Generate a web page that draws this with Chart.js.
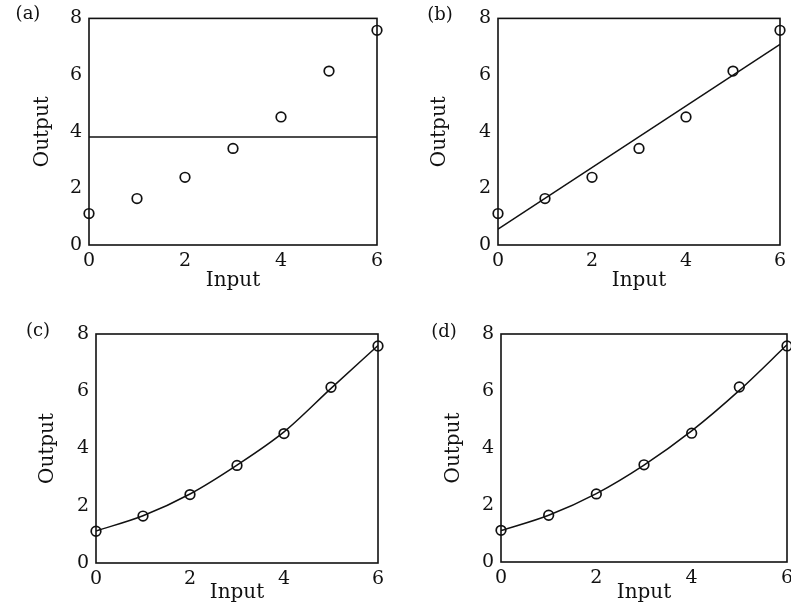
<!DOCTYPE html>
<html>
<head>
<meta charset="utf-8">
<script src="https://cdn.jsdelivr.net/npm/chart.js@4/dist/chart.umd.min.js"></script>
<style>
  html, body { margin: 0; padding: 0; background: #fff; overflow: hidden; width: 791px; height: 612px; }
  canvas { position: absolute; }
  .lbl { position: absolute; font-family: "DejaVu Serif", serif; font-size: 18px; color: #111;
         transform: translate(-50%, -50%); white-space: nowrap; line-height: 1; }
</style>
</head>
<body>
<canvas id="ca" width="400" height="300" style="left:0px;top:0px;width:400px;height:300px"></canvas>
<canvas id="cb" width="400" height="300" style="left:400px;top:0px;width:400px;height:300px"></canvas>
<canvas id="cc" width="400" height="312" style="left:0px;top:300px;width:400px;height:312px"></canvas>
<canvas id="cd" width="400" height="312" style="left:400px;top:300px;width:400px;height:312px"></canvas>
<div class="lbl" style="left:28px;top:13px">(a)</div>
<div class="lbl" style="left:440px;top:14px">(b)</div>
<div class="lbl" style="left:38px;top:330px">(c)</div>
<div class="lbl" style="left:444px;top:331px">(d)</div>
<script>
// ---- data ----
const inputX = [0, 1, 2, 3, 4, 5, 6];
const outputY = [1.11, 1.64, 2.39, 3.41, 4.52, 6.14, 7.58];

// (a) constant model
const fitAX = [0, 6];
const fitAY = [3.81, 3.81];
// (b) straight line model
const fitBX = [0, 6];
const fitBY = [0.56, 7.08];
// (c) high-order curve
const fitCX = [0, 1, 2, 3, 4, 5, 6];
const fitCY = [1.12, 1.65, 2.41, 3.42, 4.58, 6.1, 7.6];
// (d) smooth curve
const fitDX = [0, 1, 2, 3, 4, 5, 6];
const fitDY = [1.1, 1.64, 2.4, 3.4, 4.6, 6.02, 7.62];

const xTickVals = [0, 2, 4, 6];
const yTickVals = [0, 2, 4, 6, 8];
const xTitle = 'Input';
const yTitle = 'Output';

const FONT = '"DejaVu Serif", serif';
const INK = '#111';

const framePlugin = {
  id: 'frame',
  afterDatasetsDraw(chart) {
    const a = chart.chartArea, ctx = chart.ctx;
    ctx.save();
    ctx.strokeStyle = INK;
    ctx.lineWidth = 1.6;
    ctx.strokeRect(a.left, a.top, a.right - a.left, a.bottom - a.top);
    ctx.restore();
  }
};

function makePanel(id, lineX, lineY, smooth, lay) {
  const pts = inputX.map((x, i) => ({ x: x, y: outputY[i] }));
  const line = lineX.map((x, i) => ({ x: x, y: lineY[i] }));
  new Chart(document.getElementById(id), {
    type: 'scatter',
    data: {
      datasets: [
        {
          data: line, showLine: true, borderColor: INK, borderWidth: 1.5,
          pointRadius: 0, fill: false,
          cubicInterpolationMode: smooth ? 'monotone' : 'default', tension: 0
        },
        {
          data: pts, showLine: false, pointStyle: 'circle', pointRadius: 4.8,
          pointBorderWidth: 1.7, pointBorderColor: INK, pointBackgroundColor: 'rgba(0,0,0,0)',
          clip: false
        }
      ]
    },
    options: {
      responsive: false,
      animation: false,
      events: [],
      layout: { padding: { left: 0, top: lay.top, right: lay.right, bottom: 0 } },
      plugins: { legend: { display: false }, tooltip: { enabled: false } },
      scales: {
        x: {
          type: 'linear', min: 0, max: 6,
          afterBuildTicks: (s) => { s.ticks = xTickVals.map(v => ({ value: v })); },
          afterFit: (s) => { s.height = lay.xH; },
          grid: { display: false, drawTicks: false },
          border: { display: false },
          ticks: { color: INK, font: { family: FONT, size: 19 }, padding: 5, maxRotation: 0 },
          title: { display: true, text: xTitle, color: INK, font: { family: FONT, size: 20 },
                   padding: { top: 0, bottom: 7 } }
        },
        y: {
          type: 'linear', min: 0, max: 8,
          afterBuildTicks: (s) => { s.ticks = yTickVals.map(v => ({ value: v })); },
          afterFit: (s) => { s.width = lay.yW; },
          grid: { display: false, drawTicks: false },
          border: { display: false },
          ticks: { color: INK, font: { family: FONT, size: 19 }, padding: 7 },
          title: { display: true, text: yTitle, color: INK, font: { family: FONT, size: 20 },
                   padding: { top: lay.yt, bottom: 0 } }
        }
      }
    },
    plugins: [framePlugin]
  });
}

makePanel('ca', fitAX, fitAY, false, { top: 15, right: 23, yW: 89,  xH: 55, yt: 31 });
makePanel('cb', fitBX, fitBY, false, { top: 17, right: 20, yW: 98,  xH: 55, yt: 28 });
makePanel('cc', fitCX, fitCY, true,  { top: 34, right: 22, yW: 96,  xH: 49, yt: 36 });
makePanel('cd', fitDX, fitDY, true,  { top: 34, right: 13, yW: 101, xH: 50, yt: 42 });
</script>
</body>
</html>
